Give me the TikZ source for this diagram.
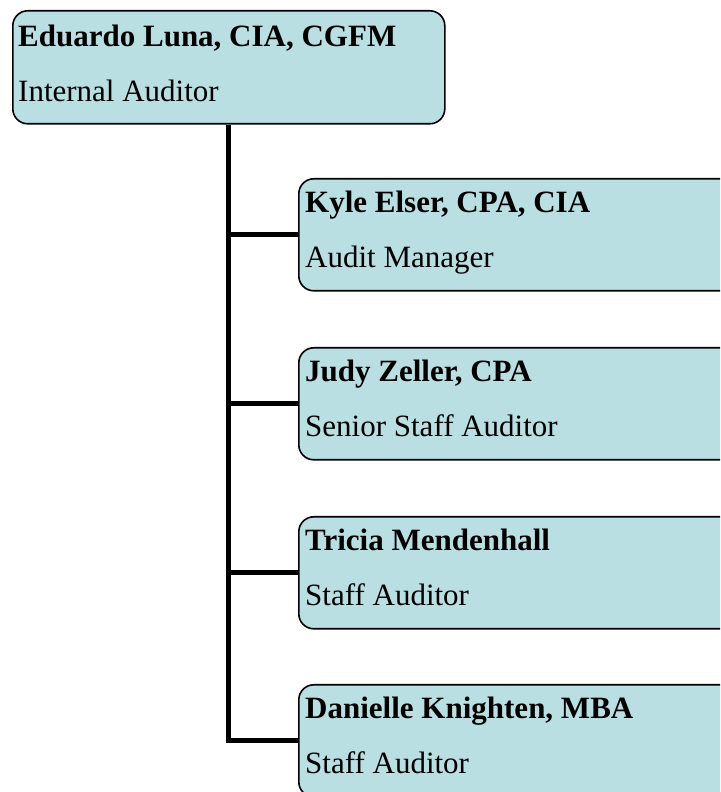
\documentclass[tikz,border=0pt]{standalone}
\usepackage{fontspec}
\setmainfont{Liberation Serif}
\definecolor{boxfill}{RGB}{186,223,227}
\tikzset{
  box/.style={draw=black, line width=1.6pt, fill=boxfill, rounded corners=15pt, inner sep=0pt, anchor=north west},
  namet/.style={anchor=base west, inner sep=0pt, font=\fontsize{31}{36}\selectfont\bfseries},
  rolet/.style={anchor=base west, inner sep=0pt, font=\fontsize{31}{36}\selectfont},
  conn/.style={draw=black, line width=5pt}
}
\begin{document}
\begin{tikzpicture}[x=1pt,y=1pt]
\useasboundingbox (0,0) rectangle (720,792);
\clip (0,0) rectangle (720,792);
% root
\node[box, minimum width=432pt, minimum height=113pt] (root) at (12,782) {};
\node[namet] (rootn) at ([xshift=6pt,yshift=-37pt]root.north west) {Eduardo Luna, CIA, CGFM};
\node[rolet] (rootr) at ([xshift=6pt,yshift=-92pt]root.north west) {Internal Auditor};
% children
\node[box, minimum width=440pt, minimum height=112pt] (c1) at (298,614) {};
\node[box, minimum width=440pt, minimum height=112pt] (c2) at (298,445) {};
\node[box, minimum width=440pt, minimum height=112pt] (c3) at (298,276) {};
\node[box, minimum width=440pt, minimum height=112pt] (c4) at (298,108) {};
\node[namet] (c1n) at ([xshift=7pt,yshift=-35pt]c1.north west) {Kyle Elser, CPA, CIA};
\node[rolet] (c1r) at ([xshift=7pt,yshift=-90pt]c1.north west) {Audit Manager};
\node[namet] (c2n) at ([xshift=7pt,yshift=-35pt]c2.north west) {Judy Zeller, CPA};
\node[rolet] (c2r) at ([xshift=7pt,yshift=-90pt]c2.north west) {Senior Staff Auditor};
\node[namet] (c3n) at ([xshift=7pt,yshift=-35pt]c3.north west) {Tricia Mendenhall};
\node[rolet] (c3r) at ([xshift=7pt,yshift=-90pt]c3.north west) {Staff Auditor};
\node[namet] (c4n) at ([xshift=7pt,yshift=-35pt]c4.north west) {Danielle Knighten, MBA};
\node[rolet] (c4r) at ([xshift=7pt,yshift=-90pt]c4.north west) {Staff Auditor};
% connectors
\begin{scope}[on background layer/.try]
\end{scope}
\draw[conn] (root.south) |- (c4.west);
\draw[conn] (root.south |- c1.west) -- (c1.west);
\draw[conn] (root.south |- c2.west) -- (c2.west);
\draw[conn] (root.south |- c3.west) -- (c3.west);
\end{tikzpicture}
\end{document}
